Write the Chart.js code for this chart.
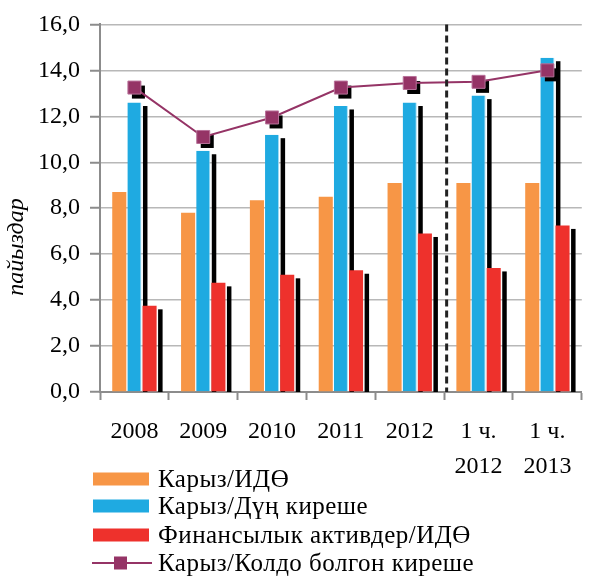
<!DOCTYPE html>
<html>
<head>
<meta charset="utf-8">
<script src="https://cdn.jsdelivr.net/npm/chart.js@4/dist/chart.umd.min.js"></script>
<style>
  html, body { margin: 0; padding: 0; background: #fff; }
  #wrap { width: 592px; height: 577px; }
</style>
</head>
<body>
<div id="wrap"><canvas id="c" width="592" height="577"></canvas></div>
<script>
// Categories (years and first halves)
const categories = ['2008', '2009', '2010', '2011', '2012', ['1 ч.', '2012'], ['1 ч.', '2013']];

// Series names
const seriesNames = [
  'Карыз/ИДӨ',
  'Карыз/Дүң киреше',
  'Финансылык активдер/ИДӨ',
  'Карыз/Колдо болгон киреше'
];

// Series values, percent
const debtToGdp = [8.7, 7.8, 8.35, 8.5, 9.1, 9.1, 9.1];
const debtToGrossIncome = [12.6, 10.5, 11.2, 12.45, 12.6, 12.9, 14.55];
const finAssetsToGdp = [3.75, 4.75, 5.1, 5.3, 6.9, 5.4, 7.25];
const debtToDisposableIncome = [13.25, 11.1, 11.95, 13.25, 13.45, 13.5, 14.0];

// Value axis
const yMin = 0, yMax = 16, yStep = 2;
const yAxisTitle = 'пайыздар';

const SERIF = "'Liberation Serif', 'DejaVu Serif', 'Times New Roman', serif";
const colors = ['#F79646', '#1FAAE1', '#EE312C', '#953466'];

// Hard black drop shadows: bar shadows go under every bar,
// marker shadows go above the bars but under the line
const dropShadows = {
  id: 'dropShadows',
  beforeDatasetsDraw(chart) {
    const ctx = chart.ctx, a = chart.chartArea;
    ctx.save();
    ctx.beginPath();
    ctx.rect(a.left, a.top, a.right - a.left, a.bottom - a.top);
    ctx.clip();
    ctx.fillStyle = '#000';
    chart.data.datasets.forEach((ds, i) => {
      if (!ds.barShadow) return;
      chart.getDatasetMeta(i).data.forEach(bar => {
        const p = bar.getProps(['x', 'y', 'base', 'width'], true);
        const right = p.x + p.width / 2;
        ctx.fillRect(right + 1.5, p.y + 3.5, 4.5, p.base - p.y);
      });
    });
    ctx.restore();
  },
  beforeDatasetDraw(chart, args) {
    const ds = chart.data.datasets[args.index];
    if (!ds.markerShadow) return;
    const ctx = chart.ctx;
    ctx.save();
    ctx.fillStyle = '#000';
    args.meta.data.forEach(pt => {
      const s = Math.SQRT2 * pt.options.radius;
      ctx.fillRect(pt.x + 4 - s / 2, pt.y + 4.5 - s / 2, s, s);
    });
    ctx.restore();
  }
};

// Dashed separator between annual and half-year data
const separator = {
  id: 'separator',
  afterDatasetsDraw(chart) {
    const x = chart.scales.x, a = chart.chartArea, ctx = chart.ctx;
    const px = (x.getPixelForValue(4) + x.getPixelForValue(5)) / 2 + 2.5;
    ctx.save();
    ctx.strokeStyle = '#222';
    ctx.lineWidth = 3;
    ctx.setLineDash([7, 4]);
    ctx.beginPath();
    ctx.moveTo(px, a.top);
    ctx.lineTo(px, a.bottom);
    ctx.stroke();
    ctx.restore();
  }
};

// Rotated axis title and stacked legend
const annotations = {
  id: 'annotations',
  afterDraw(chart) {
    const ctx = chart.ctx;
    ctx.save();
    ctx.fillStyle = '#000';
    ctx.font = 'italic 24px ' + SERIF;
    ctx.textAlign = 'center';
    ctx.textBaseline = 'middle';
    ctx.translate(17, 247);
    ctx.rotate(-Math.PI / 2);
    ctx.fillText(yAxisTitle, 0, 0);
    ctx.restore();

    ctx.save();
    ctx.font = '25px ' + SERIF;
    if ('letterSpacing' in ctx) ctx.letterSpacing = '0.5px';
    ctx.textBaseline = 'middle';
    ctx.textAlign = 'left';
    const rows = [479, 506, 535, 563];
    chart.data.datasets.forEach((ds, i) => {
      const y = rows[i];
      if (ds.type === 'line') {
        ctx.strokeStyle = ds.borderColor;
        ctx.lineWidth = 2;
        ctx.beginPath();
        ctx.moveTo(92, y);
        ctx.lineTo(152, y);
        ctx.stroke();
        ctx.fillStyle = ds.pointBackgroundColor;
        ctx.fillRect(114, y - 6.5, 13, 13);
      } else {
        ctx.fillStyle = ds.backgroundColor;
        ctx.fillRect(93, y - 6.5, 56, 13);
      }
      ctx.fillStyle = '#000';
      ctx.fillText(ds.label, 158, y + 1);
    });
    ctx.restore();
  }
};

const barCommon = {
  type: 'bar',
  order: 1,
  categoryPercentage: 0.66,
  barPercentage: 0.93,
  clip: 0
};

new Chart(document.getElementById('c'), {
  data: {
    labels: categories,
    datasets: [
      Object.assign({}, barCommon, {
        label: seriesNames[0], data: debtToGdp,
        backgroundColor: colors[0]
      }),
      Object.assign({}, barCommon, {
        label: seriesNames[1], data: debtToGrossIncome,
        backgroundColor: colors[1],
        borderColor: '#A5DDF4', borderWidth: { right: 1, left: 0, top: 0, bottom: 0 },
        borderSkipped: false, barShadow: true
      }),
      Object.assign({}, barCommon, {
        label: seriesNames[2], data: finAssetsToGdp,
        backgroundColor: colors[2], barShadow: true
      }),
      {
        type: 'line', label: seriesNames[3], data: debtToDisposableIncome, order: 0,
        borderColor: colors[3], borderWidth: 2, tension: 0,
        pointStyle: 'rect', pointRadius: 9.2,
        pointBackgroundColor: colors[3], pointBorderColor: '#B8729A', pointBorderWidth: 1,
        markerShadow: true
      }
    ]
  },
  options: {
    responsive: false,
    animation: false,
    layout: { padding: { top: 24, right: 1, left: 0, bottom: 0 } },
    plugins: {
      legend: { display: false },
      tooltip: { enabled: false }
    },
    scales: {
      x: {
        offset: true,
        afterFit(s) { s.height = 185; },
        grid: {
          offset: true, drawOnChartArea: false, drawTicks: true,
          tickLength: 8, tickColor: '#8C8C8C', tickWidth: 2
        },
        border: { color: '#8C8C8C', width: 2 },
        ticks: {
          color: '#000', padding: 14.5, maxRotation: 0, autoSkip: false,
          font: { family: SERIF, size: 24, lineHeight: 1.46 }
        }
      },
      y: {
        min: yMin, max: yMax,
        afterFit(s) { s.width = 100; },
        grid: {
          color: '#B8B8B8', lineWidth: 1.5,
          tickLength: 10, tickColor: '#8C8C8C', tickWidth: 2
        },
        border: { color: '#8C8C8C', width: 2 },
        ticks: {
          stepSize: yStep, color: '#000', padding: 10,
          font: { family: SERIF, size: 24 },
          callback: v => Number(v).toFixed(1).replace('.', ',')
        }
      }
    }
  },
  plugins: [dropShadows, separator, annotations]
});
</script>
</body>
</html>
